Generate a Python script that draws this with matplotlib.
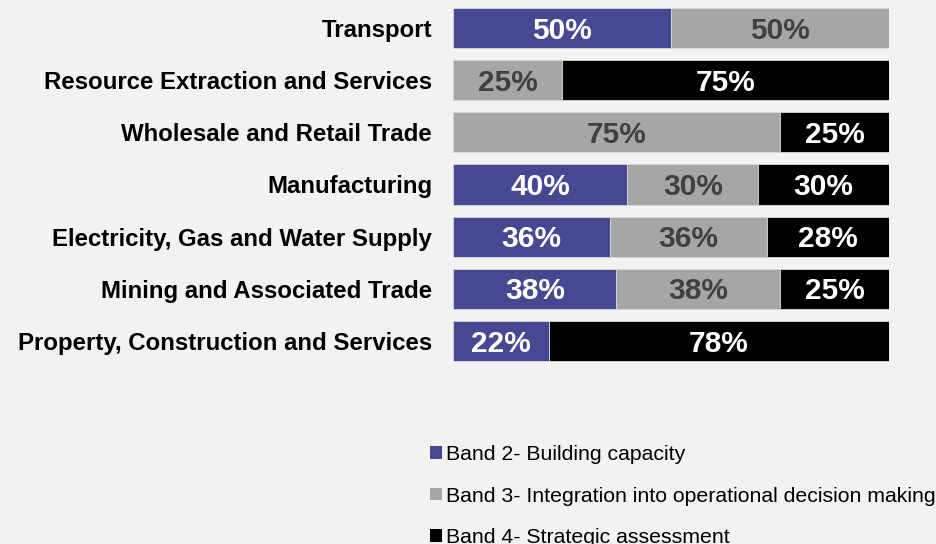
import matplotlib.pyplot as plt
from matplotlib.patches import Patch
import numpy as np

plt.rcParams["font.family"] = ["Liberation Sans", "DejaVu Sans"]

sectors = ["Transport", "Resource Extraction and Services", "Wholesale and Retail Trade",
           "Manufacturing", "Electricity, Gas and Water Supply",
           "Mining and Associated Trade", "Property, Construction and Services"]
band2 = [50, 0, 0, 40, 36, 37.5, 22]
band3 = [50, 25, 75, 30, 36, 37.5, 0]
band4 = [0, 75, 25, 30, 28, 25, 78]
band_names = ["Band 2- Building capacity",
              "Band 3- Integration into operational decision making",
              "Band 4- Strategic assessment"]
colors = ["#464892", "#a6a6a6", "#000000"]
text_colors = ["white", "#404040", "white"]

bg = "#f2f2f2"
fig = plt.figure(figsize=(9.37, 5.44), dpi=100, facecolor=bg)
ax = fig.add_axes([453/937, 1-367.1/544, 436/937, 365.2/544])
ax.set_facecolor(bg)

y = np.arange(len(sectors))
left = np.zeros(len(sectors))
for vals, c, tc in zip([band2, band3, band4], colors, text_colors):
    vals = np.array(vals, dtype=float)
    ax.barh(y, vals, left=left, height=0.77, color=c, edgecolor="#d9d9d9", linewidth=0.6)
    for yi, l, v in zip(y, left, vals):
        if v > 0:
            ax.text(l + v/2, yi + 0.05, f"{v:.0f}%", ha="center", va="center",
                    color=tc, fontsize=21.5, fontweight="bold")
    left += vals

ax.set_xlim(0, 100)
ax.set_ylim(6.5, -0.5)
ax.set_yticks(y)
ax.set_yticklabels(sectors, fontsize=17.3, fontweight="bold")
ax.tick_params(axis="y", length=0, pad=15)
ax.set_xticks([])
for s in ax.spines.values():
    s.set_visible(False)

handles = [Patch(facecolor=c, edgecolor="none") for c in colors]
fig.legend(handles, band_names, loc="center left", bbox_to_anchor=(430/937, 1-496/544),
           frameon=False, fontsize=15.3, handlelength=0.55, handleheight=0.55,
           handletextpad=0.2, labelspacing=1.07, borderpad=0, borderaxespad=0)

fig.savefig("out.png", dpi=100, facecolor=bg)
